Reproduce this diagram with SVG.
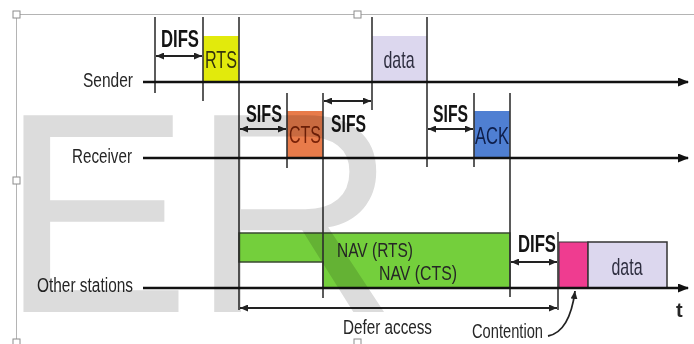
<svg xmlns="http://www.w3.org/2000/svg" width="694" height="344" viewBox="0 0 694 344">
<style>
.frame{stroke:#b4b4b4;stroke-width:1;fill:none}
.handle{fill:#fff;stroke:#8c8c8c;stroke-width:1}
.axis{stroke:#111;stroke-width:2.6;fill:none}
.tick{stroke:#333;stroke-width:1.6;fill:none}
.dim{stroke:#222;stroke-width:1.8;fill:none}
.lbl{font-family:"Liberation Sans",Arial,sans-serif;font-size:20px;fill:#262626}
.ifs{font-family:"Liberation Sans",Arial,sans-serif;font-size:23px;font-weight:bold;fill:#141414}
.box{font-family:"Liberation Sans",Arial,sans-serif;font-size:24px;text-anchor:middle}
.wm{font-family:"Liberation Sans",Arial,sans-serif;font-size:286px;fill:#dcdcdc;mix-blend-mode:multiply}
</style>
<defs>
<marker id="big" markerUnits="userSpaceOnUse" markerWidth="11" markerHeight="9" refX="10" refY="4.5" orient="auto"><path d="M0,0 L11,4.5 L0,9 z" fill="#111"/></marker>
<marker id="sm" markerUnits="userSpaceOnUse" markerWidth="8" markerHeight="7" refX="8" refY="3.5" orient="auto-start-reverse"><path d="M0,0 L8,3.5 L0,7 z" fill="#222"/></marker>
</defs>
<rect width="694" height="344" fill="#fff"/>
<g id="frame">
<path class="frame" d="M16.5,14.5 H694 M16.5,14.5 V344"/>
<rect class="handle" x="13" y="11" width="7" height="7"/>
<rect class="handle" x="354" y="11" width="7" height="7"/>
<rect class="handle" x="13" y="177" width="7" height="7"/>
<rect class="handle" x="13" y="339" width="7" height="7"/>
<rect class="handle" x="354" y="339" width="7" height="7"/>
</g>
<g id="nav">
<path d="M239,233 H510 V288 H323 V262 H239 Z" fill="#74cf3c" stroke="#3a4a30" stroke-width="1.5"/>
<text class="lbl" x="337" y="257" textLength="76" lengthAdjust="spacingAndGlyphs" fill="#1d3a10">NAV (RTS)</text>
<text class="lbl" x="379" y="280" textLength="78" lengthAdjust="spacingAndGlyphs" fill="#1d3a10">NAV (CTS)</text>
</g>
<g id="rts">
<rect x="203" y="36" width="36" height="46" fill="#e2ea0c"/>
<text class="box" x="221" y="68" textLength="32" lengthAdjust="spacingAndGlyphs" fill="#34340c">RTS</text>
</g>
<g id="data-sender">
<rect x="372" y="36" width="55" height="46" fill="#dcd7ee"/>
<text class="box" x="399" y="68" textLength="31" lengthAdjust="spacingAndGlyphs" fill="#2e2e40">data</text>
</g>
<g id="cts">
<rect x="287" y="111" width="36" height="47" fill="#e87b4a"/>
<text class="box" x="305" y="143" textLength="32" lengthAdjust="spacingAndGlyphs" fill="#7a2208">CTS</text>
</g>
<g id="ack">
<rect x="474" y="111" width="36" height="47" fill="#4f7fd2"/>
<text class="box" x="492" y="144" textLength="34" lengthAdjust="spacingAndGlyphs" fill="#0e1e4a">ACK</text>
</g>
<g id="contention">
<rect x="559" y="242" width="29" height="46" fill="#ef3c90" stroke="#333" stroke-width="1"/>
</g>
<g id="data-other">
<rect x="588" y="242" width="79" height="46" fill="#dcd7ee" stroke="#333" stroke-width="1.5"/>
<text class="box" x="627" y="275" textLength="31" lengthAdjust="spacingAndGlyphs" fill="#2e2e40">data</text>
</g>
<g id="labels">
<text class="lbl" x="83" y="87" textLength="50" lengthAdjust="spacingAndGlyphs">Sender</text>
<text class="lbl" x="72" y="163" textLength="60" lengthAdjust="spacingAndGlyphs">Receiver</text>
<text class="lbl" x="37" y="292" textLength="96" lengthAdjust="spacingAndGlyphs">Other stations</text>
<text class="ifs" x="161" y="47" textLength="38" lengthAdjust="spacingAndGlyphs">DIFS</text>
<text class="ifs" x="246" y="122" textLength="36" lengthAdjust="spacingAndGlyphs">SIFS</text>
<text class="ifs" x="331" y="132" textLength="35" lengthAdjust="spacingAndGlyphs">SIFS</text>
<text class="ifs" x="433" y="122" textLength="35" lengthAdjust="spacingAndGlyphs">SIFS</text>
<text class="ifs" x="518" y="252" textLength="38" lengthAdjust="spacingAndGlyphs">DIFS</text>
<text class="lbl" x="343" y="334" font-size="19" textLength="89" lengthAdjust="spacingAndGlyphs">Defer access</text>
<text class="lbl" x="472" y="338" font-size="19" textLength="71" lengthAdjust="spacingAndGlyphs">Contention</text>
<text class="lbl" x="676" y="317" font-size="24" font-weight="bold" fill="#222">t</text>
</g>
<g id="connectors">
<path class="tick" d="M155,17 V93 M203,17 V101 M239,17 V310 M287,93 V168 M323,93 V298 M372,17 V110 M427,17 V167 M474,93 V167 M510,93 V297 M558,232 V310"/>
<line class="axis" x1="143" y1="82" x2="688" y2="82" marker-end="url(#big)"/>
<line class="axis" x1="143" y1="158" x2="688" y2="158" marker-end="url(#big)"/>
<line class="axis" x1="143" y1="288" x2="688" y2="288" marker-end="url(#big)"/>
<line class="dim" x1="156" y1="56" x2="202" y2="56" marker-start="url(#sm)" marker-end="url(#sm)"/>
<line class="dim" x1="240" y1="129" x2="286" y2="129" marker-start="url(#sm)" marker-end="url(#sm)"/>
<line class="dim" x1="324" y1="101" x2="371" y2="101" marker-start="url(#sm)" marker-end="url(#sm)"/>
<line class="dim" x1="428" y1="129" x2="473" y2="129" marker-start="url(#sm)" marker-end="url(#sm)"/>
<line class="dim" x1="511" y1="262" x2="557" y2="262" marker-start="url(#sm)" marker-end="url(#sm)"/>
<line class="dim" x1="240" y1="308" x2="557" y2="308" marker-start="url(#sm)" marker-end="url(#sm)"/>
<path class="dim" d="M548,336 C564,333 572,314 575,291" marker-end="url(#sm)"/>
</g>
<g id="watermark">
<text class="wm" x="0" y="312">ER</text>
</g>
</svg>
